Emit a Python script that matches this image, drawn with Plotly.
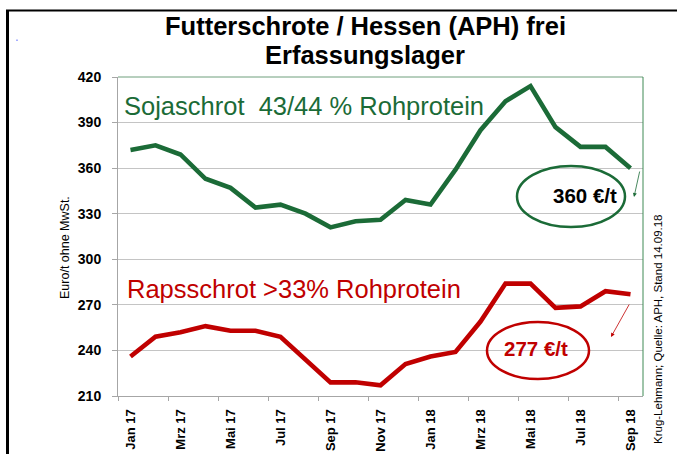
import plotly.graph_objects as go

months = ["Jan 17", "Feb 17", "Mrz 17", "Apr 17", "Mai 17", "Jun 17", "Jul 17", "Aug 17",
          "Sep 17", "Okt 17", "Nov 17", "Dez 17", "Jan 18", "Feb 18", "Mrz 18", "Apr 18",
          "Mai 18", "Jun 18", "Jul 18", "Aug 18", "Sep 18"]
soja = [372, 375, 369, 353, 347, 334, 336, 330, 321, 325, 326, 339, 336, 359, 385, 404,
        414, 387, 374, 374, 360]
raps = [236, 249, 252, 256, 253, 253, 249, 234, 219, 219, 217, 231, 236, 239, 259, 284,
        284, 268, 269, 279, 277]
y_ticks = [210, 240, 270, 300, 330, 360, 390, 420]

GREEN = "#1b6b37"
RED = "#c00000"
FONT = "Liberation Sans, Arial, sans-serif"

W, H = 677, 454
L, R, T, B = 118, 643, 77, 396


def px(xp):
    return (xp - L) / (R - L)


def py(yp):
    return (B - yp) / (B - T)


x = list(range(len(months)))
fig = go.Figure()
fig.add_trace(go.Scatter(x=x, y=soja, mode="lines", line=dict(color=GREEN, width=4.6),
                         hoverinfo="skip", showlegend=False))
fig.add_trace(go.Scatter(x=x, y=raps, mode="lines", line=dict(color=RED, width=4.6),
                         hoverinfo="skip", showlegend=False))

fig.update_layout(
    width=W, height=H,
    margin=dict(l=L, r=W - R, t=T, b=H - B, pad=0, autoexpand=False),
    paper_bgcolor="white", plot_bgcolor="white",
    font=dict(family=FONT, color="black"),
    showlegend=False,
)
fig.update_xaxes(
    range=[-0.5, len(months) - 0.5], automargin=False,
    tickmode="array", tickvals=x[::2], ticktext=["<b>%s</b>" % m for m in months[::2]],
    tickangle=-90, tickfont=dict(size=13, color="black"),
    ticks="", ticklabelstandoff=7, showgrid=False, zeroline=False,
    showline=True, linecolor="#a6a6a6", linewidth=1,
    minor=dict(tick0=-0.5, dtick=2, ticks="outside", ticklen=4, tickcolor="#a6a6a6", showgrid=False),
)
fig.update_yaxes(
    range=[210, 420], automargin=False, tickmode="array", tickvals=y_ticks,
    ticktext=["<b>%d</b>" % v for v in y_ticks],
    tickfont=dict(size=14, color="black"),
    ticks="outside", ticklen=5, tickcolor="#a6a6a6", ticklabelstandoff=8,
    showgrid=True, gridcolor="#c4c4c4", gridwidth=1, zeroline=False,
    showline=True, linecolor="#a6a6a6", linewidth=1,
)

shapes = [
    # plot area top & right border
    dict(type="line", xref="paper", yref="paper", x0=0, x1=1, y0=1, y1=1,
         line=dict(color="#6f9f7c", width=1)),
    dict(type="line", xref="paper", yref="paper", x0=1, x1=1, y0=0, y1=1,
         line=dict(color="#3f8a55", width=1)),
    # outer black frame (left and top edges)
    dict(type="line", xref="paper", yref="paper", x0=px(7.5), x1=px(7.5), y0=py(10), y1=py(470),
         line=dict(color="black", width=3)),
    dict(type="line", xref="paper", yref="paper", x0=px(6), x1=px(690), y0=py(10.5), y1=py(10.5),
         line=dict(color="black", width=2)),
    # small blue mark
    dict(type="rect", xref="paper", yref="paper", x0=px(16.5), x1=px(17.5), y0=py(41), y1=py(39.5),
         line=dict(width=0), fillcolor="#5060ff"),
    # ellipses
    dict(type="circle", xref="paper", yref="paper", x0=px(517), x1=px(625), y0=py(227), y1=py(166),
         line=dict(color=GREEN, width=2.5)),
    dict(type="circle", xref="paper", yref="paper", x0=px(487), x1=px(589), y0=py(379), y1=py(322),
         line=dict(color=RED, width=2.5)),
]
fig.update_layout(shapes=shapes)

annotations = [
    dict(text="<b>Futterschrote / Hessen (APH) frei</b>", xref="paper", yref="paper",
         x=px(365), y=py(26), xanchor="center", yanchor="middle", showarrow=False,
         font=dict(size=25.5, color="black")),
    dict(text="<b>Erfassungslager</b>", xref="paper", yref="paper",
         x=px(365), y=py(55), xanchor="center", yanchor="middle", showarrow=False,
         font=dict(size=25.5, color="black")),
    dict(text="Euro/t ohne MwSt.", xref="paper", yref="paper", x=px(65), y=py(248),
         xanchor="center", yanchor="middle", textangle=-90, showarrow=False,
         font=dict(size=12.5, color="black")),
    dict(text="Sojaschrot  43/44 % Rohprotein", xref="paper", yref="paper",
         x=px(122), y=py(106), xanchor="left", yanchor="middle", showarrow=False,
         font=dict(size=25.5, color=GREEN)),
    dict(text="Rapsschrot >33% Rohprotein", xref="paper", yref="paper",
         x=px(125), y=py(289), xanchor="left", yanchor="middle", showarrow=False,
         font=dict(size=25.5, color=RED)),
    dict(text="<b>360 €/t</b>", xref="paper", yref="paper", x=px(585), y=py(195),
         xanchor="center", yanchor="middle", showarrow=False, font=dict(size=20.5, color="black")),
    dict(text="<b>277 €/t</b>", xref="paper", yref="paper", x=px(535.5), y=py(348),
         xanchor="center", yanchor="middle", showarrow=False, font=dict(size=20.5, color=RED)),
    dict(text="", xref="paper", yref="paper", x=px(634), y=py(197), ax=6, ay=-27, showarrow=True,
         arrowhead=2, arrowsize=1, arrowwidth=0.8, arrowcolor=GREEN),
    dict(text="", xref="paper", yref="paper", x=px(611), y=py(337), ax=19, ay=-34, showarrow=True,
         arrowhead=2, arrowsize=1, arrowwidth=0.8, arrowcolor=RED),
    dict(text="Krug-Lehmann; Quelle: APH, Stand 14.09.18", xref="paper", yref="paper",
         x=px(658), y=py(329), xanchor="center", yanchor="middle", textangle=-90,
         showarrow=False, font=dict(size=11.5, color="black")),
]
fig.update_layout(annotations=annotations)

fig.write_html("out.html", config={"displayModeBar": False},
               post_script="document.body.style.margin='0';document.body.style.overflow='hidden';")
